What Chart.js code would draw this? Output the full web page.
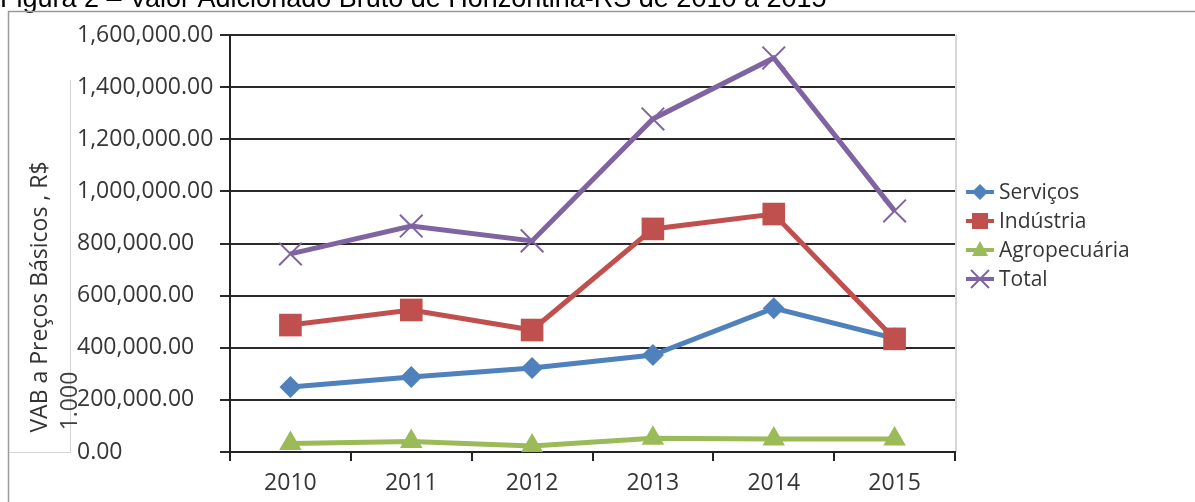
<!DOCTYPE html>
<html>
<head>
<meta charset="utf-8">
<script src="https://cdn.jsdelivr.net/npm/chart.js@4/dist/chart.umd.min.js"></script>
<style>
  html, body { margin: 0; padding: 0; background: #fff; }
  #wrap { width: 1195px; height: 502px; position: relative; }
</style>
</head>
<body>
<div id="wrap"><canvas id="vabChart" width="1195" height="502"></canvas></div>
<script>
// VAB Horizontina-RS, valores em R$ 1.000
var anos = ["2010", "2011", "2012", "2013", "2014", "2015"];
var servicos = [249000, 288000, 322000, 372000, 552000, 436000];
var industria = [487000, 545000, 468000, 856000, 913000, 434000];
var agropecuaria = [33000, 40000, 23000, 53000, 50000, 50000];
var total = [760000, 867000, 810000, 1278000, 1512000, 925000];

var tituloFigura = "Figura 2 \u2013 Valor Adicionado Bruto de Horizontina-RS de 2010 a 2015";
var tituloEixo = "VAB a Pre\u00e7os B\u00e1sicos , R$";
var unidade = "1.000";

var tickFont = { family: "'Open Sans'", size: 23 };
var corTexto = "#363636";

function fmt(v) {
	return Number(v).toLocaleString("en-US", { minimumFractionDigits: 2, maximumFractionDigits: 2 });
}

// moldura, título cortado, caixa do título do eixo, legenda
var decor = {
	id: "decor",
	beforeDraw: function (chart) {
		var ctx = chart.ctx;
		var a = chart.chartArea;
		ctx.save();
		ctx.fillStyle = "#000";
		ctx.font = "27px 'Liberation Sans'";
		ctx.textBaseline = "alphabetic";
		ctx.fillText(tituloFigura, 0, 7);

		ctx.strokeStyle = "#9a9a9a";
		ctx.lineWidth = 1.5;
		ctx.beginPath();
		ctx.moveTo(8.5, 502);
		ctx.lineTo(8.5, 11.5);
		ctx.lineTo(1195, 11.5);
		ctx.stroke();

		ctx.strokeStyle = "#d4d4d4";
		ctx.lineWidth = 1;
		ctx.beginPath();
		ctx.moveTo(70.5, 80);
		ctx.lineTo(70.5, 452.5);
		ctx.lineTo(9, 452.5);
		ctx.stroke();

		// borda direita da área de plotagem
		ctx.strokeStyle = "#c8c8c8";
		ctx.lineWidth = 1.5;
		ctx.beginPath();
		ctx.moveTo(a.right + 1, a.top);
		ctx.lineTo(a.right + 1, a.bottom);
		ctx.stroke();

		ctx.translate(40, 297);
		ctx.rotate(-Math.PI / 2);
		ctx.fillStyle = "#333";
		ctx.font = "23px 'Open Sans'";
		ctx.textAlign = "center";
		ctx.textBaseline = "middle";
		ctx.fillText(tituloEixo, 0, 0);
		ctx.restore();

		ctx.save();
		ctx.translate(70, 401);
		ctx.rotate(-Math.PI / 2);
		ctx.fillStyle = "#404040";
		ctx.font = "23px 'Open Sans'";
		ctx.textAlign = "center";
		ctx.textBaseline = "middle";
		ctx.fillText(unidade, 0, 0);
		ctx.restore();
	},
	afterDraw: function (chart) {
		var ctx = chart.ctx;
		ctx.save();
		chart.data.datasets.forEach(function (ds, i) {
			var y = 192 + i * 29;
			ctx.strokeStyle = ds.borderColor;
			ctx.lineWidth = 4;
			ctx.beginPath();
			ctx.moveTo(966, y);
			ctx.lineTo(994, y);
			ctx.stroke();
			ctx.fillStyle = ds.borderColor;
			ctx.beginPath();
			if (ds.pointStyle === "rectRot") {
				ctx.moveTo(980, y - 8); ctx.lineTo(988, y); ctx.lineTo(980, y + 8); ctx.lineTo(972, y);
				ctx.closePath(); ctx.fill();
			} else if (ds.pointStyle === "rect") {
				ctx.fillRect(972, y - 8, 16, 16);
			} else if (ds.pointStyle === "triangle") {
				ctx.moveTo(980, y - 9); ctx.lineTo(988, y + 6); ctx.lineTo(972, y + 6);
				ctx.closePath(); ctx.fill();
			} else {
				ctx.lineWidth = 2;
				ctx.moveTo(971, y - 9); ctx.lineTo(989, y + 9);
				ctx.moveTo(989, y - 9); ctx.lineTo(971, y + 9);
				ctx.stroke();
			}
			ctx.fillStyle = corTexto;
			ctx.font = "21px 'Open Sans'";
			ctx.textBaseline = "middle";
			ctx.fillText(ds.label, 999, y + 1);
		});
		ctx.restore();
	}
};

var ctx = document.getElementById("vabChart").getContext("2d");
var chart = new Chart(ctx, {
	type: "line",
	data: {
		labels: anos,
		datasets: [
			{
				label: "Servi\u00e7os",
				data: servicos,
				borderColor: "#4F81BD",
				backgroundColor: "#4F81BD",
				pointStyle: "rectRot",
				pointRadius: 11,
				order: 4
			},
			{
				label: "Ind\u00fastria",
				data: industria,
				borderColor: "#C0504D",
				backgroundColor: "#C0504D",
				pointStyle: "rect",
				pointRadius: 16,
				order: 3
			},
			{
				label: "Agropecu\u00e1ria",
				data: agropecuaria,
				borderColor: "#9BBB59",
				backgroundColor: "#9BBB59",
				pointStyle: "triangle",
				pointRadius: 13,
				order: 2
			},
			{
				label: "Total",
				data: total,
				borderColor: "#8064A2",
				backgroundColor: "#8064A2",
				pointStyle: "crossRot",
				pointRadius: 16,
				pointBorderWidth: 2,
				order: 1
			}
		]
	},
	options: {
		responsive: false,
		animation: false,
		layout: { padding: { left: 77, top: 35, right: 240, bottom: 0 } },
		elements: {
			line: { borderWidth: 5, tension: 0 },
			point: { borderWidth: 0 }
		},
		plugins: {
			legend: { display: false },
			title: { display: false },
			tooltip: { enabled: false }
		},
		scales: {
			x: {
				offset: true,
				grid: {
					offset: true,
					drawOnChartArea: false,
					color: "#222",
					lineWidth: 2,
					tickLength: 9
				},
				border: { color: "#222", width: 2 },
				ticks: { font: tickFont, color: corTexto, padding: 9 },
				afterFit: function (scale) { scale.height = 50; }
			},
			y: {
				min: 0,
				max: 1600000,
				grid: {
					color: "#2a2a2a",
					lineWidth: 2,
					tickLength: 10
				},
				border: { color: "#222", width: 2 },
				ticks: {
					stepSize: 200000,
					font: tickFont,
					color: corTexto,
					crossAlign: "far",
					callback: function (v) { return fmt(v); }
				},
				afterFit: function (scale) { scale.width = 153; }
			}
		}
	},
	plugins: [decor]
});
</script>
</body>
</html>
